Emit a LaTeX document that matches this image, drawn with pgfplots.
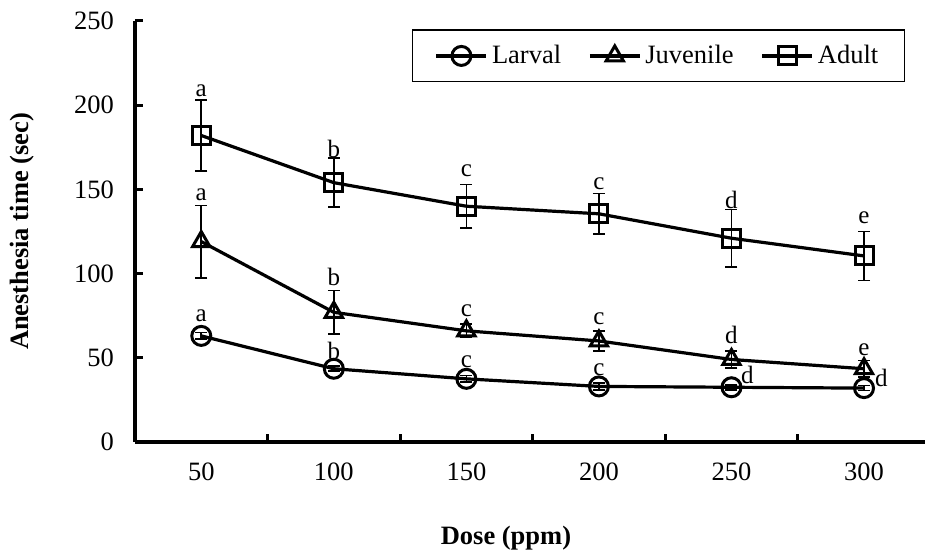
\documentclass[border=0pt]{standalone}
\usepackage{pgfplots}
\usepackage{pgfplotstable}
\pgfplotsset{compat=1.18}
\usepackage{fontspec}
\setmainfont{Liberation Serif}

\pgfplotstableread{
x y err
0 63 2
1 43.5 1.5
2 37.5 2
3 33 2
4 32.5 1.5
5 32 1.5
}\larval
\pgfplotstableread{
x y err
0 119 21.5
1 77 13
2 66 4
3 60 6
4 49 5
5 43.5 5
}\juvenile
\pgfplotstableread{
x y err
0 182 21
1 154 14.5
2 140 13
3 135.5 12
4 121 17
5 110.5 14.5
}\adult
\pgfplotstableread{
x y lab
0 208.4 a
1 174.0 b
2 160.9 c
3 153.2 c
4 143.7 d
5 133.0 e
0 146.7 a
1 98.0 b
2 77.8 c
3 73.0 c
4 63.5 d
5 54.6 e
0 74.8 a
1 54.0 b
2 47.5 c
3 42.8 c
4.12 39.8 d
5.13 38.0 d
}\letters

\begin{document}
\begin{tikzpicture}[font=\fontsize{13.25pt}{16pt}\selectfont]
\begin{axis}[
  at={(0,0)}, anchor=south west,
  scale only axis, width=395pt, height=210.5pt,
  xmin=-0.5, xmax=5.46, ymin=0, ymax=250,
  axis lines=left,
  axis line style={-, line width=1.8pt},
  tick align=inside,
  major tick length=4pt,
  tick style={line width=1.5pt, black},
  xtick={0.5,1.5,2.5,3.5,4.5}, xticklabels={},
  extra x ticks={0,1,2,3,4,5},
  extra x tick labels={50,100,150,200,250,300},
  extra x tick style={major tick length=0pt},
  ytick={0,50,100,150,200,250},
  /pgf/number format/assume math mode=true,
  xticklabel style={yshift=-7pt},
  yticklabel style={xshift=-7pt},
  xlabel={\bfseries Dose (ppm)},
  ylabel={\bfseries Anesthesia time (sec)},
  xlabel style={at={(rel axis cs:0.4696,0)}, anchor=center, yshift=-48pt},
  ylabel style={at={(rel axis cs:0,0.5)}, anchor=center, yshift=56.5pt},
  clip=false,
  legend columns=3,
  legend style={at={(rel axis cs:0.6627,0.917)}, anchor=center, draw=black,
    line width=0.6pt, inner xsep=11pt, inner ysep=5.6pt,
    /tikz/every even column/.append style={column sep=11.5pt}},
  legend image code/.code={\draw[mark repeat=2,mark phase=2] plot coordinates {(0pt,0pt) (12.5pt,0pt) (25pt,0pt)};},
  every axis plot/.append style={black, line width=1.6pt},
  error bars/error bar style={line width=0.8pt, solid},
  error bars/error mark options={rotate=90, mark size=3pt, line width=0.8pt},
]
\addplot[mark=o, mark size=4.75pt, mark options={line width=1.5pt},
  error bars/.cd, y dir=both, y explicit]
  table[x=x, y=y, y error=err] \larval;
\addlegendentry{Larval}
\addplot[mark=triangle, mark size=5pt, mark options={line width=1.5pt},
  error bars/.cd, y dir=both, y explicit]
  table[x=x, y=y, y error=err] \juvenile;
\addlegendentry{Juvenile}
\addplot[mark=square, mark size=4.5pt, mark options={line width=1.5pt},
  error bars/.cd, y dir=both, y explicit]
  table[x=x, y=y, y error=err] \adult;
\addlegendentry{Adult}
\addplot[forget plot, draw=none, mark=none, nodes near coords,
  point meta=explicit symbolic,
  every node near coord/.append style={anchor=center, inner sep=0pt, font=\fontsize{12.5pt}{14pt}\selectfont}]
  table[x=x, y=y, meta=lab] \letters;
\end{axis}
\pgfresetboundingbox
\path (-67.5pt,-56.5pt) rectangle (395pt,221pt);
\end{tikzpicture}
\end{document}
